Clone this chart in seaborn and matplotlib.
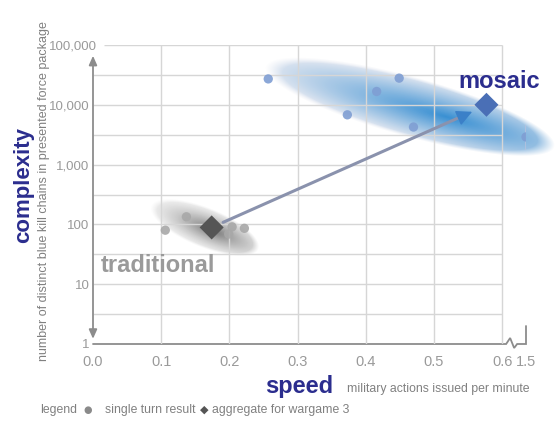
import numpy as np
import matplotlib
matplotlib.use("Agg")
import matplotlib.pyplot as plt
import matplotlib.colors as mcolors
from matplotlib.transforms import ScaledTranslation
import seaborn as sns
import pandas as pd

# ---- data -------------------------------------------------------------
mosaic_speed = [0.257, 0.373, 0.416, 0.449, 0.470, 1.5]
mosaic_complexity = [27100, 6800, 16700, 27900, 4250, 2900]
traditional_speed = [0.106, 0.137, 0.199, 0.204, 0.222]
traditional_complexity = [80, 134, 69, 91, 86]
aggregate_labels = ["traditional", "mosaic"]
aggregate_speed = [0.174, 0.577]
aggregate_complexity = [89, 10000]
arrow_tip = (0.556, 7640)
outlier_spread = [1780, 4640]          # range of the 1.5 actions/min result
x_ticks = [0.0, 0.1, 0.2, 0.3, 0.4, 0.5, 0.6, 1.5]
x_tick_labels = ["0.0", "0.1", "0.2", "0.3", "0.4", "0.5", "0.6", "1.5"]
y_ticks = [1, 10, 100, 1000, 10000, 100000]
y_tick_labels = ["1", "10", "100", "1,000", "10,000", "100,000"]

sns.set_theme(style="white")
plt.rcParams["font.family"] = ["Liberation Sans", "DejaVu Sans"]

NAVY = "#2b2d8e"
TICK = "#9a9a9a"
AXIS = "#8c8c8c"
GRID = "#d6d6d6"
NOTE = "#808080"

# broken x axis: everything past 0.6 is squeezed into a short stub
BREAK = 0.6
SQUEEZE = 0.035 / 0.9


def fwd(x):
    x = np.asarray(x, dtype=float)
    return np.where(x <= BREAK, x, BREAK + (x - BREAK) * SQUEEZE)


def inv(x):
    x = np.asarray(x, dtype=float)
    return np.where(x <= BREAK, x, BREAK + (x - BREAK) / SQUEEZE)


W, H = 557, 422
fig = plt.figure(figsize=(W / 100, H / 100), dpi=100)
fig.patch.set_facecolor("white")

# pixel-space layer underneath for the shaded clusters and the axis stub
bg = fig.add_axes([0, 0, 1, 1], zorder=0)
bg.set_xlim(0, W)
bg.set_ylim(0, H)
bg.axis("off")

ax = fig.add_axes([93 / W, 78 / H, 433 / W, 299 / H], zorder=1)
ax.patch.set_alpha(0)
ax.set_xscale("function", functions=(fwd, inv))
ax.set_yscale("log")
ax.set_xlim(0, 1.5)
ax.set_ylim(1, 1e5)
for s in ax.spines.values():
    s.set_visible(False)

# grid only over the continuous part of the axis
grid_levels = [10 ** (k / 2) for k in range(1, 11)]
ax.vlines([0.1, 0.2, 0.3, 0.4, 0.5, 0.6], 1, 1e5, color=GRID, lw=1, zorder=0.5)
ax.hlines(grid_levels[:-1], 0, BREAK, color=GRID, lw=1, zorder=0.5)
ax.hlines(grid_levels[-1], 0.016, BREAK, color=GRID, lw=1, zorder=0.5)


# ---- soft shaded clusters ------------------------------------------------
def cluster(center, a, b, angle, core, edge, shift, strength):
    cx, cy = ax.transData.transform(center)
    yy, xx = np.mgrid[0:H, 0:W] + 0.5
    t = np.deg2rad(angle)
    dx, dy = xx - cx, yy - cy
    u = (dx * np.cos(t) + dy * np.sin(t)) / a
    v = (-dx * np.sin(t) + dy * np.cos(t)) / b
    r = np.sqrt(u ** 2 + v ** 2)
    rc = np.sqrt(((u - shift) / (1.0 + abs(shift))) ** 2 + v ** 2)
    w = np.clip(1 - rc, 0, 1) ** strength
    c0 = np.array(mcolors.to_rgb(core))
    c1 = np.array(mcolors.to_rgb(edge))
    img = np.zeros((H, W, 4))
    img[..., :3] = c1 + (c0 - c1) * w[..., None]
    img[..., 3] = np.clip((1 - r) / 0.12, 0, 1) * (0.55 + 0.45 * w)
    bg.imshow(img, extent=[0, W, 0, H], origin="lower", interpolation="bilinear",
              zorder=1)


cluster((0.465, 9300), 150, 30, -15.5, "#3990d3", "#d3d9e8", 0.25, 0.75)
cluster((0.164, 89), 58, 20, -22, "#777777", "#e6e6e6", 0.15, 1.0)

# ---- axis lines ------------------------------------------------------------
ax.annotate("", xy=(0, 66000), xytext=(0, 1.22), annotation_clip=False,
            arrowprops=dict(arrowstyle="<|-|>,head_length=0.45,head_width=0.2",
                            color=AXIS, lw=1.3, mutation_scale=12,
                            shrinkA=0, shrinkB=0))
x0, y0 = ax.transData.transform((0, 1))
x6, _ = ax.transData.transform((BREAK, 1))
x15, _ = ax.transData.transform((1.5, 1))
stub_x = [x0, x6 + 4, x6 + 8, x6 + 12, x6 + 15, x15, x15]
stub_y = [y0, y0, y0 + 6, y0 - 4, y0, y0, y0 + 18]
bg.plot(stub_x, stub_y, color=AXIS, lw=1.3, zorder=2, solid_joinstyle="miter")

# ---- marks -------------------------------------------------------------------
mosaic = pd.DataFrame({"speed": mosaic_speed, "complexity": mosaic_complexity})
traditional = pd.DataFrame({"speed": traditional_speed,
                            "complexity": traditional_complexity})
aggregate = pd.DataFrame({"group": aggregate_labels, "speed": aggregate_speed,
                          "complexity": aggregate_complexity})

ax.vlines(1.5, outlier_spread[0], outlier_spread[1], color="#b4c2de", lw=1.2,
          zorder=2)
sns.scatterplot(data=mosaic, x="speed", y="complexity", ax=ax, s=45,
                color="#7f9ed3", alpha=0.9, edgecolor="none", zorder=3,
                legend=False)
sns.scatterplot(data=traditional, x="speed", y="complexity", ax=ax, s=45,
                color="#a8a8a8", alpha=0.9, edgecolor="none", zorder=3,
                legend=False)

# shift from traditional to mosaic: grey shaft, blue head
start = (aggregate_speed[0], aggregate_complexity[0])
frac = 0.95
neck = (start[0] + frac * (arrow_tip[0] - start[0]),
        10 ** (np.log10(start[1]) + frac * (np.log10(arrow_tip[1]) - np.log10(start[1]))))
ax.annotate("", xy=neck, xytext=start,
            arrowprops=dict(arrowstyle="-", color="#8a92ad", lw=2.2,
                            shrinkA=9, shrinkB=0), zorder=4)
ax.annotate("", xy=arrow_tip, xytext=neck,
            arrowprops=dict(arrowstyle="-|>,head_length=1.2,head_width=0.6",
                            color="#3b80c8", lw=1.0, mutation_scale=8,
                            shrinkA=0, shrinkB=0), zorder=4)
sns.scatterplot(data=aggregate, x="speed", y="complexity", hue="group",
                palette={"traditional": "#555555", "mosaic": "#4a6fb6"},
                marker="D", s=150, edgecolor="none", ax=ax, zorder=5,
                legend=False)

ax.set_xlim(0, 1.5)
ax.set_ylim(1, 1e5)
ax.set_xticks(x_ticks, x_tick_labels)
ax.set_yticks(y_ticks, y_tick_labels)
ax.minorticks_off()
ax.tick_params(axis="x", length=0, pad=8, labelsize=10.5, labelcolor=TICK)
ax.tick_params(axis="y", length=0, pad=2.5, labelsize=9.5, labelcolor=TICK)
ax.set_xlabel("")
ax.set_ylabel("")
# the top label sits above the arrow head, so it can move closer to the axis
top = ax.get_yticklabels()[-1]
top.set_transform(top.get_transform() + ScaledTranslation(0.07, 0, fig.dpi_scale_trans))


# ---- titles, labels, legend ------------------------------------------------
def px(x, y):
    return x / W, 1 - y / H


fig.text(*px(24, 185), "complexity", rotation=90, ha="center", va="center",
         fontsize=16, fontweight="bold", color=NAVY)
fig.text(*px(44, 191), "number of distinct blue kill chains in presented force package",
         rotation=90, ha="center", va="center", fontsize=9, color=NOTE)
fig.text(*px(299, 387), "speed", ha="center", va="center", fontsize=17,
         fontweight="bold", color=NAVY)
fig.text(*px(347, 389), "military actions issued per minute", ha="left",
         va="center", fontsize=8.8, color=NOTE)
fig.text(*px(499, 82), "mosaic", ha="center", va="center", fontsize=17,
         fontweight="bold", color=NAVY)
fig.text(*px(158, 266), "traditional", ha="center", va="center", fontsize=17,
         fontweight="bold", color="#9a9a9a")

fig.text(*px(40, 410), "legend", ha="left", va="center", fontsize=8.8,
         color=NOTE)
fig.text(*px(88, 410), "●", ha="center", va="center", fontsize=7,
         color="#8a8a8a", family=["DejaVu Sans"])
fig.text(*px(105, 410), "single turn result", ha="left", va="center",
         fontsize=8.8, color=NOTE)
fig.text(*px(204, 410), "◆", ha="center", va="center", fontsize=8,
         color="#555555", family=["DejaVu Sans"])
fig.text(*px(212, 410), "aggregate for wargame 3", ha="left", va="center",
         fontsize=8.8, color=NOTE)

fig.savefig("out.png", dpi=100, facecolor="white")
